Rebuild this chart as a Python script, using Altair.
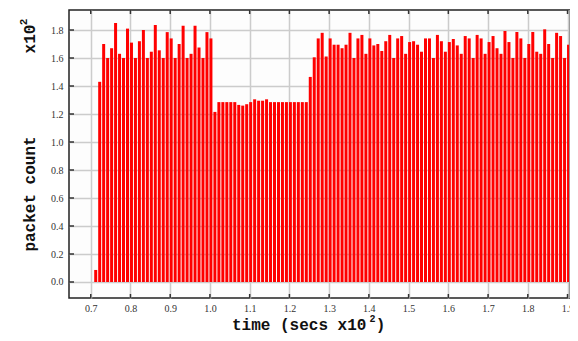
import altair as alt
import pandas as pd

# packet counts (x10^2) per 0.01 x10^2 s, starting at t = 0.71
t_start = 0.71
t_step = 0.01
packets = [
    0.086, 1.43, 1.70, 1.60, 1.67, 1.85, 1.63, 1.60, 1.81, 1.71,
    1.60, 1.72, 1.80, 1.60, 1.645, 1.835, 1.655, 1.60, 1.785, 1.74,
    1.60, 1.70, 1.83, 1.60, 1.63, 1.83, 1.675, 1.60, 1.785, 1.74,
    1.215, 1.285, 1.285, 1.285, 1.285, 1.285, 1.265, 1.26, 1.27, 1.285,
    1.305, 1.295, 1.295, 1.305, 1.285, 1.285, 1.285, 1.285, 1.285, 1.285,
    1.285, 1.285, 1.285, 1.285, 1.465, 1.605, 1.74, 1.78, 1.61, 1.74,
    1.695, 1.695, 1.67, 1.695, 1.78, 1.60, 1.74, 1.765, 1.63, 1.74,
    1.69, 1.70, 1.65, 1.72, 1.765, 1.60, 1.74, 1.757, 1.63, 1.714,
    1.72, 1.695, 1.645, 1.74, 1.74, 1.60, 1.765, 1.72, 1.645, 1.714,
    1.736, 1.69, 1.63, 1.757, 1.74, 1.60, 1.765, 1.74, 1.63, 1.714,
    1.757, 1.67, 1.63, 1.793, 1.714, 1.60, 1.786, 1.74, 1.60, 1.70,
    1.786, 1.645, 1.63, 1.805, 1.70, 1.60, 1.78, 1.757, 1.60, 1.695,
]
times = [round(t_start + i * t_step, 2) for i in range(len(packets))]

x_ticks = [0.7, 0.8, 0.9, 1.0, 1.1, 1.2, 1.3, 1.4, 1.5, 1.6, 1.7, 1.8, 1.9]
y_ticks = [0.0, 0.2, 0.4, 0.6, 0.8, 1.0, 1.2, 1.4, 1.6, 1.8]

x_domain = [0.6453, 1.9062]
y_domain = [-0.1143, 1.943]

W, H = 501, 288

df = pd.DataFrame({"t": times, "v": packets})
xt = pd.DataFrame({"t": x_ticks})
yt = pd.DataFrame({"v": y_ticks})
one = pd.DataFrame({"a": [0]})

xs = alt.Scale(domain=x_domain, nice=False, zero=False, padding=0)
ys = alt.Scale(domain=y_domain, nice=False, zero=False, padding=0)

x_axis = alt.Axis(values=x_ticks, format=".1f", title=None, ticks=False,
                  domain=False, labelPadding=5, grid=True)
y_axis = alt.Axis(values=y_ticks, format=".1f", title=None, ticks=False,
                  domain=False, labelPadding=6, grid=True)

bars = alt.Chart(df).mark_bar(size=3, color="#ff0000", xOffset=1).encode(
    x=alt.X("t:Q", scale=xs, axis=x_axis),
    y=alt.Y("v:Q", scale=ys, axis=y_axis),
    y2=alt.datum(0),
)

tick_col = "#333333"
top_ticks = alt.Chart(xt).mark_rule(color=tick_col, strokeWidth=1.5).encode(
    x=alt.X("t:Q", scale=xs, axis=x_axis), y=alt.value(0), y2=alt.value(4))
bot_ticks = alt.Chart(xt).mark_rule(color=tick_col, strokeWidth=1.5).encode(
    x=alt.X("t:Q", scale=xs, axis=x_axis), y=alt.value(H), y2=alt.value(H - 4))
left_ticks = alt.Chart(yt).mark_rule(color=tick_col, strokeWidth=1.5).encode(
    y=alt.Y("v:Q", scale=ys, axis=y_axis), x=alt.value(0), x2=alt.value(5))
right_edge = alt.Chart(one).mark_rule(color="#9a9a9a", strokeWidth=2).encode(
    x=alt.value(W), y=alt.value(0), y2=alt.value(H))

title_font = "Liberation Mono"
ytitle = alt.Chart(one).mark_text(text="packet count", font=title_font, fontSize=16,
                                  fontWeight="bold", angle=270, align="center",
                                  baseline="alphabetic", color="#111").encode(
    x=alt.value(-34), y=alt.value(184))
ymult = alt.Chart(one).mark_text(text="x10", font=title_font, fontSize=16,
                                 fontWeight="bold", angle=270, align="center",
                                 baseline="alphabetic", color="#111").encode(
    x=alt.value(-34), y=alt.value(29))
ymult2 = alt.Chart(one).mark_text(text="2", font=title_font, fontSize=11,
                                  fontWeight="bold", angle=270, align="center",
                                  baseline="alphabetic", color="#111").encode(
    x=alt.value(-42), y=alt.value(12))
xtitle = alt.Chart(one).mark_text(text="time (secs x10", font=title_font, fontSize=16,
                                  fontWeight="bold", align="left",
                                  baseline="alphabetic", color="#111").encode(
    x=alt.value(163), y=alt.value(319.5))
xtitle2 = alt.Chart(one).mark_text(text="2", font=title_font, fontSize=10,
                                   fontWeight="bold", align="center",
                                   baseline="alphabetic", color="#111").encode(
    x=alt.value(303.5), y=alt.value(312))
xtitle3 = alt.Chart(one).mark_text(text=")", font=title_font, fontSize=16,
                                   fontWeight="bold", align="center",
                                   baseline="alphabetic", color="#111").encode(
    x=alt.value(311.5), y=alt.value(319.5))

chart = alt.layer(
    bars, top_ticks, bot_ticks, left_ticks, right_edge,
    ytitle, ymult, ymult2, xtitle, xtitle2, xtitle3,
).properties(
    width=W, height=H,
    autosize=alt.AutoSizeParams(type="none"),
    padding={"left": 61, "top": 2, "right": 0, "bottom": 35},
    background="white",
).configure_view(
    stroke="#222222", strokeWidth=1.5, fill="#fdfdfd",
).configure_axis(
    labelFont="Liberation Serif", labelFontSize=10, labelColor="#333333",
    gridColor="#cccccc", gridWidth=1.5,
)

chart.save("out.html", embed_options={"renderer": "svg", "actions": False})
